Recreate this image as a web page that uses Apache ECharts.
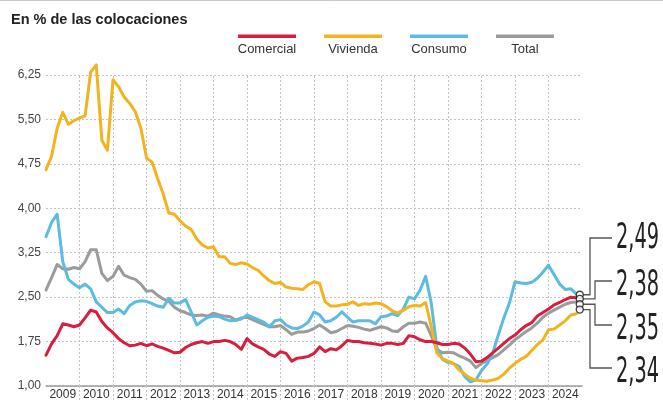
<!DOCTYPE html>
<html><head><meta charset="utf-8">
<script src="https://cdn.jsdelivr.net/npm/echarts@6/dist/echarts.min.js"></script>
<style>html,body{margin:0;padding:0;background:#fff}#c{width:663px;height:403px}</style>
</head><body><div id="c"></div>
<script>
const startYear = 2009;
const stepsPerYear = 6; // one sample every two months
const yearLabels = ['2009','2010','2011','2012','2013','2014','2015','2016','2017','2018','2019','2020','2021','2022','2023','2024'];
const yTicks = [1.00,1.75,2.50,3.25,4.00,4.75,5.50,6.25];
const seriesNames = ['Comercial','Vivienda','Consumo','Total'];
const seriesColors = ['#d81e3c','#f2b31e','#5cbbe0','#9b9b9b'];

const comercial = [
1.52,1.71,1.85,2.05,2.03,2.00,
2.03,2.15,2.28,2.25,2.09,1.98,
1.90,1.80,1.73,1.68,1.69,1.72,
1.68,1.71,1.67,1.64,1.60,1.56,
1.57,1.65,1.70,1.73,1.75,1.72,
1.75,1.75,1.77,1.75,1.70,1.62,
1.80,1.71,1.66,1.62,1.54,1.50,
1.58,1.55,1.42,1.47,1.48,1.50,
1.55,1.66,1.58,1.63,1.61,1.68,
1.77,1.75,1.75,1.73,1.72,1.71,
1.69,1.72,1.72,1.70,1.72,1.85,
1.83,1.78,1.75,1.75,1.73,1.70,
1.70,1.72,1.71,1.64,1.54,1.41,
1.42,1.48,1.56,1.64,1.72,1.80,
1.86,1.95,2.02,2.07,2.18,2.24,
2.30,2.37,2.41,2.46,2.50,2.49];

const vivienda = [
4.65,4.88,5.35,5.62,5.42,5.48,
5.52,5.56,6.30,6.42,5.15,4.98,
6.17,6.05,5.88,5.77,5.63,5.35,
4.85,4.78,4.50,4.24,3.92,3.90,
3.79,3.70,3.64,3.48,3.38,3.33,
3.35,3.18,3.18,3.07,3.05,3.08,
3.06,3.00,2.95,2.86,2.78,2.73,
2.75,2.67,2.65,2.64,2.63,2.71,
2.76,2.73,2.42,2.35,2.35,2.37,
2.38,2.42,2.36,2.39,2.38,2.40,
2.39,2.34,2.27,2.23,2.28,2.34,
2.36,2.35,2.41,2.00,1.56,1.46,
1.42,1.38,1.27,1.20,1.13,1.10,
1.09,1.08,1.10,1.13,1.20,1.30,
1.38,1.45,1.50,1.60,1.70,1.78,
1.95,1.96,2.03,2.10,2.20,2.22];

const consumo = [
3.52,3.76,3.90,3.10,2.80,2.72,
2.66,2.72,2.64,2.42,2.33,2.24,
2.24,2.30,2.22,2.36,2.42,2.44,
2.43,2.39,2.35,2.33,2.48,2.40,
2.40,2.46,2.25,2.03,2.10,2.16,
2.18,2.17,2.13,2.10,2.11,2.13,
2.20,2.16,2.12,2.08,2.00,2.10,
2.12,2.03,1.98,1.97,2.01,2.08,
2.25,2.20,2.08,2.10,2.16,2.25,
2.16,2.08,2.10,2.10,2.10,2.05,
2.17,2.18,2.22,2.19,2.30,2.50,
2.47,2.62,2.85,2.40,1.65,1.45,
1.40,1.38,1.33,1.16,1.07,1.10,
1.26,1.37,1.55,1.86,2.15,2.40,
2.76,2.74,2.73,2.75,2.82,2.92,
3.04,2.88,2.72,2.63,2.64,2.55];

const total = [
2.62,2.83,3.05,2.98,2.97,3.00,
2.98,3.10,3.30,3.30,2.90,2.78,
2.85,3.02,2.87,2.83,2.80,2.72,
2.60,2.61,2.53,2.47,2.43,2.33,
2.27,2.24,2.20,2.19,2.20,2.18,
2.23,2.20,2.18,2.17,2.11,2.15,
2.16,2.12,2.08,2.04,2.00,2.00,
2.02,1.95,1.87,1.91,1.91,1.93,
1.97,2.03,1.97,1.90,1.92,1.97,
2.02,2.01,1.99,1.96,1.94,1.97,
2.00,1.98,1.93,1.92,2.00,2.06,
2.06,2.08,2.06,1.85,1.62,1.56,
1.57,1.56,1.51,1.47,1.42,1.31,
1.38,1.43,1.48,1.53,1.61,1.69,
1.78,1.85,1.92,1.98,2.06,2.16,
2.23,2.28,2.33,2.38,2.41,2.42];

// stacked end-of-series markers and their callout labels
const endMarkers = [2.54, 2.47, 2.38, 2.29];
const endLabels = ['2,49','2,38','2,35','2,34'];

const seriesValues = [comercial, vivienda, consumo, total];
const toPairs = arr => arr.map((v, i) => [startYear + i / stepsPerYear, v]);
const lastX = startYear + (comercial.length - 1) / stepsPerYear;
const markerX = lastX + 0.1;
const yearNums = yearLabels.map(Number);
const boundaries = yearNums.slice(1);
const mids = yearNums.map(y => y + 0.5);
const endYear = yearNums[yearNums.length - 1] + 1;

const chart = echarts.init(document.getElementById('c'), null, {renderer: 'canvas'});
const drawOrder = [3, 2, 1, 0];
const lineSeries = drawOrder.map((k, n) => ({
  name: seriesNames[k], type: 'line', data: toPairs(seriesValues[k]),
  showSymbol: false, symbol: 'none', clip: false, z: 3 + n,
  lineStyle: {color: seriesColors[k], width: 3, join: 'round', cap: 'round'},
  itemStyle: {color: seriesColors[k]},
  markLine: n === 0 ? {
    silent: true, symbol: ['none','none'], label: {show: false}, z: 1,
    lineStyle: {type: [2,2], color: '#c4c4c4', width: 1},
    emphasis: {disabled: true},
    data: boundaries.map(b => ({xAxis: b}))
  } : undefined
}));

chart.setOption({
  animation: false,
  grid: {left: 46, right: 81, top: 75, bottom: 17, containLabel: false},
  xAxis: {
    type: 'value', min: startYear, max: endYear, interval: 1,
    axisLine: {show: true, lineStyle: {color: '#9a9a9a', width: 1.5}},
    splitLine: {show: false},
    axisTick: {show: true, customValues: boundaries, length: 14, lineStyle: {type: [2,2], color: '#c4c4c4', width: 1}},
    axisLabel: {customValues: mids, formatter: v => String(Math.floor(v)), fontSize: 12, color: '#333', margin: 3, fontFamily: 'Liberation Sans'}
  },
  yAxis: {
    type: 'value', min: 1, max: 6.25, interval: 0.75,
    axisLine: {show: false}, axisTick: {show: false},
    axisLabel: {formatter: v => v.toFixed(2).replace('.', ','), fontSize: 12, color: '#444', margin: 5, fontFamily: 'Liberation Sans'},
    splitLine: {show: true, lineStyle: {type: [2,2], color: '#c4c4c4', width: 1}}
  },
  series: lineSeries.concat([{
    type: 'scatter', data: endMarkers.map(v => [markerX, v]), symbol: 'circle', symbolSize: 7, z: 20, clip: false,
    itemStyle: {color: '#fff', borderColor: '#111', borderWidth: 1.4}
  }])
});

const measureCtx = document.createElement('canvas').getContext('2d');
const bigFont = '36px "Liberation Sans Narrow", "DejaVu Sans Condensed", sans-serif';
measureCtx.font = bigFont;

const g = [];
g.push({type: 'line', shape: {x1: 0, y1: 0.5, x2: 663, y2: 0.5}, style: {stroke: '#c8c8c8', lineWidth: 1}});
g.push({type: 'text', x: 11, y: 20, style: {text: 'En % de las colocaciones', font: 'bold 14.5px "Liberation Sans"', fill: '#222', align: 'left', verticalAlign: 'middle', textAlign: 'left', textVerticalAlign: 'middle'}});
seriesNames.forEach((name, i) => {
  const cx = 267 + i * 86;
  g.push({type: 'rect', shape: {x: cx - 29, y: 34.5, width: 58, height: 3.5}, style: {fill: seriesColors[i]}});
  g.push({type: 'text', x: cx, y: 49, style: {text: name, font: '13px "Liberation Sans"', fill: '#333', align: 'center', verticalAlign: 'middle', textAlign: 'center', textVerticalAlign: 'middle'}});
});
const vx = [590, 595, 595, 590];
const lineY = [238, 281, 325, 368];
const textY = [239, 286, 330, 373];
endMarkers.forEach((v, i) => {
  const p = chart.convertToPixel({gridIndex: 0}, [markerX, v]);
  g.push({type: 'polyline', z: 15, shape: {points: [[p[0] + 3.5, p[1]], [vx[i], p[1]], [vx[i], lineY[i]], [612, lineY[i]]]}, style: {stroke: '#555', lineWidth: 1.3, fill: null}});
  const w = measureCtx.measureText(endLabels[i]).width;
  const s = Math.min(1, 43 / w);
  g.push({type: 'text', x: 616, y: textY[i], scaleX: s, scaleY: 1, originX: 0, originY: 0, style: {text: endLabels[i], font: bigFont, fill: '#222', align: 'left', verticalAlign: 'middle', textAlign: 'left', textVerticalAlign: 'middle'}});
});
chart.setOption({graphic: g});
</script></body></html>
